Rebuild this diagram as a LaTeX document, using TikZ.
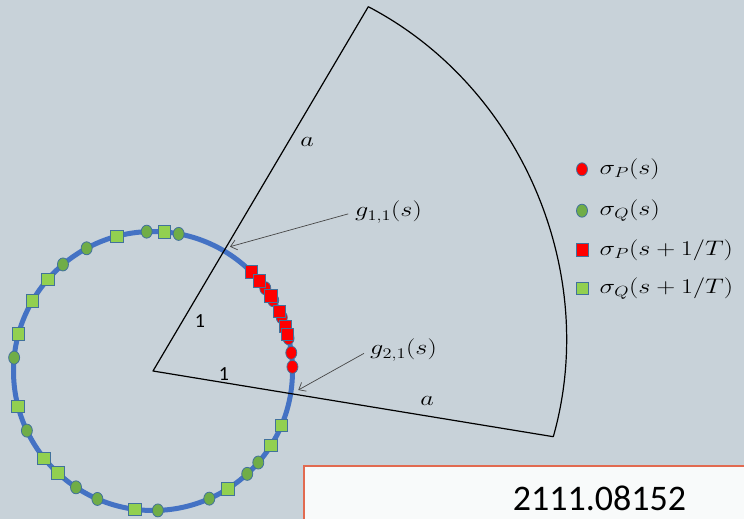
\documentclass[tikz,border=0pt]{standalone}
\usepackage{fix-cm}
\usepackage{fontspec}
\usepackage{graphicx}
\usetikzlibrary{shapes.geometric,arrows.meta}
\newfontfamily\carlito{Carlito}
\definecolor{bg}{RGB}{200,210,217}
\definecolor{ringblue}{RGB}{68,114,196}
\definecolor{markline}{RGB}{65,113,156}
\definecolor{pred}{RGB}{255,0,0}
\definecolor{qgreen}{RGB}{112,173,71}
\definecolor{qlight}{RGB}{146,208,80}
\definecolor{boxline}{RGB}{226,106,80}
\definecolor{boxfill}{RGB}{248,250,250}
\definecolor{arrowgray}{RGB}{70,70,70}
\newcommand{\mtxt}[1]{\scalebox{1.25}[1]{$#1$}}
\begin{document}
\begin{tikzpicture}[x=1pt,y=-1pt,
  ring/.style={draw=ringblue,line width=5pt},
  sectorline/.style={draw=black,line width=1.2pt,line join=round},
  dotmark/.style={ellipse,draw=markline,line width=0.8pt,minimum width=11pt,minimum height=13pt,inner sep=0pt},
  sqmark/.style={rectangle,draw=markline,line width=0.8pt,minimum size=12.5pt,inner sep=0pt},
  pc/.style={dotmark,fill=pred},
  qc/.style={dotmark,fill=qgreen},
  ps/.style={sqmark,fill=pred},
  qs/.style={sqmark,fill=qlight},
  mlabel/.style={inner sep=0pt,font=\fontsize{21}{25}\selectfont},
  onelabel/.style={inner sep=0pt,font=\carlito\fontsize{20}{24}\selectfont},
  pointer/.style={draw=arrowgray,line width=0.7pt,-{Straight Barb[length=6pt,width=10pt]},shorten <=7pt},
  infobox/.style={draw=boxline,fill=boxfill,line width=2pt}
]
\path[use as bounding box,fill=bg] (0,0) rectangle (744,519);
\clip (0,0) rectangle (744,519);

% ring
\coordinate (O) at (153,371);
\draw[ring] (O) circle[radius=139.5pt];

% sector
\coordinate (T) at (368.3,6.7);
\coordinate (B) at (553.3,436.7);
\draw[sectorline] (B) -- (O) -- (T) .. controls (520.7,86.3) and (600.1,271.2) .. (B);

% labels on sector
\node[mlabel] (a1) at (307,142) {\mtxt{a}};
\node[mlabel] (a2) at (427,401) {\mtxt{a}};
\node[onelabel] (one1) at (200,321) {1};
\node[onelabel] (one2) at (224,374) {1};

% markers on the ring
\foreach \a [count=\i] in {92.6,79.4,118.4,130.2,174.5,205.3,236.5,246.5,272,293.8,312.5,319}
  \node[qc] (qc\i) at ({153+139.5*cos(\a)},{371-139.5*sin(\a)}) {};
\foreach \a [count=\i] in {105.1,85.3,138.9,149.9,164.5,194.6,218.7,226.9,262.5,302.5,327.7,337}
  \node[qs] (qs\i) at ({153+139.5*cos(\a)},{371-139.5*sin(\a)}) {};
\foreach \a [count=\i] in {36.4,30.5,22.6,13.6,7.5,1.7}
  \node[pc] (pc\i) at ({153+139.5*cos(\a)},{371-139.5*sin(\a)}) {};
\foreach \a [count=\i] in {45.2,40.3,32.5,25.2,18.6,15.2}
  \node[ps] (ps\i) at ({153+139.5*cos(\a)},{371-139.5*sin(\a)}) {};

% pointers
\node[mlabel,anchor=west] (g11) at (355,212) {\mtxt{g_{1,1}(s)}};
\node[mlabel,anchor=west] (g21) at (370,350) {\mtxt{g_{2,1}(s)}};
\coordinate (p11) at (230,246.7);
\coordinate (p21) at (298.3,390);
\draw[pointer] (g11.west) -- (p11);
\draw[pointer] (g21.west) -- (p21);

% legend
\node[pc] (lpc) at (582,169.3) {};
\node[qc] (lqc) at (582,210.7) {};
\node[ps] (lps) at (582.5,250) {};
\node[qs] (lqs) at (582.5,288.3) {};
\node[mlabel,anchor=west] (tpc) at (599.5,169.3) {\mtxt{\sigma_P(s)}};
\node[mlabel,anchor=west] (tqc) at (599.5,210.7) {\mtxt{\sigma_Q(s)}};
\node[mlabel,anchor=west] (tps) at (599.5,250) {\mtxt{\sigma_P(s+1/T)}};
\node[mlabel,anchor=west] (tqs) at (599.5,288.3) {\mtxt{\sigma_Q(s+1/T)}};

% info box
\path[infobox] (304,466) rectangle (780,560);
\node[inner sep=0pt,font=\carlito\fontsize{36}{40}\selectfont] (arxiv) at (599.5,498.7) {2111.08152};
\end{tikzpicture}
\end{document}
